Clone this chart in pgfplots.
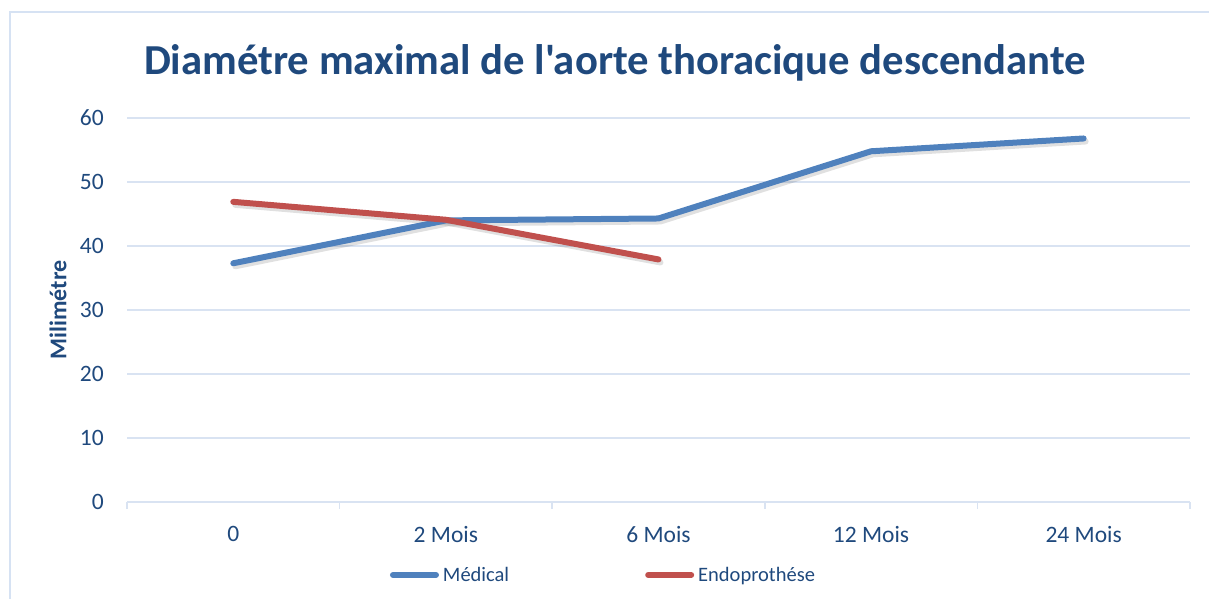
\documentclass[border=0pt]{standalone}
\usepackage{pgfplots}
\pgfplotsset{compat=1.18}
\usepackage{fontspec}
\setmainfont{Carlito}[Ligatures=TeXOff]
\definecolor{txtblue}{HTML}{1F497D}
\definecolor{gridc}{HTML}{D9E3F2}
\definecolor{framec}{HTML}{D6E2F3}
\definecolor{medc}{HTML}{4F81BD}
\definecolor{endc}{HTML}{C0504D}
\begin{document}
\begin{tikzpicture}[x=1pt,y=1pt]
\useasboundingbox (0,0) rectangle (1209,598);
\draw[framec, line width=2pt] (10,586) rectangle (1230,-20);
\node[anchor=base, text=txtblue, font=\fontsize{42.7}{48}\selectfont\bfseries] at (615,523) {Diamétre maximal de l'aorte thoracique descendante};
\begin{axis}[
  at={(127pt,96pt)}, anchor=south west,
  scale only axis, width=1063pt, height=384pt,
  xmin=-0.5, xmax=4.5, ymin=0, ymax=60,
  axis x line*=bottom, axis y line*=left,
  x axis line style={gridc, line width=1.5pt},
  y axis line style={draw=none},
  xtick={0,1,2,3,4},
  xticklabels={0,2 Mois,6 Mois,12 Mois,24 Mois},
  major x tick style={draw=none},
  extra x ticks={-0.5,0.5,1.5,2.5,3.5,4.5},
  extra x tick labels={},
  extra x tick style={major x tick style={draw=gridc, line width=1.5pt}, major tick length=7pt, tick align=outside, grid=none},
  ytick={0,10,20,30,40,50,60},
  ymajorgrids, grid style={gridc, line width=1.5pt},
  major y tick style={draw=none},
  tick label style={text=txtblue, font=\fontsize{23.5}{28}\selectfont},
  /pgf/number format/assume math mode=true,
  yticklabel style={anchor=east, inner sep=0pt, xshift=-23pt},
  xticklabel style={anchor=north, inner sep=0pt, yshift=-24pt},
  ylabel={Milimétre},
  ylabel style={at={(axis description cs:-0.0649,0.5)}, anchor=center, text=txtblue, font=\fontsize{24}{28}\selectfont\bfseries},
  legend columns=2,
  legend style={draw=none, fill=none, at={(rel axis cs:0.2474,-0.19)}, anchor=west, inner sep=0pt, outer sep=0pt,
    nodes={inner sep=0pt, anchor=west, text=txtblue, font=\fontsize{20.5}{24}\selectfont},
    /tikz/every odd column/.style={column sep=4pt},
    /tikz/every even column/.style={column sep=136pt}},
  legend image code/.code={\draw[#1, line width=6pt, line cap=round] (3pt,0pt) -- (46pt,0pt);},
]
\addplot[black, opacity=0.12, line width=6pt, line cap=round, line join=round, forget plot, xshift=2pt, yshift=-3pt] coordinates {(0,37.3) (1,44.0) (2,44.3) (3,54.8) (4,56.8)};
\addplot[black, opacity=0.12, line width=6pt, line cap=round, line join=round, forget plot, xshift=2pt, yshift=-3pt] coordinates {(0,46.9) (1,44.1) (2,37.9)};
\addplot[medc, line width=6pt, line cap=round, line join=round] coordinates {(0,37.3) (1,44.0) (2,44.3) (3,54.8) (4,56.8)};
\addplot[endc, line width=6pt, line cap=round, line join=round] coordinates {(0,46.9) (1,44.1) (2,37.9)};
\legend{Médical,Endoprothése}
\end{axis}
\end{tikzpicture}
\end{document}
